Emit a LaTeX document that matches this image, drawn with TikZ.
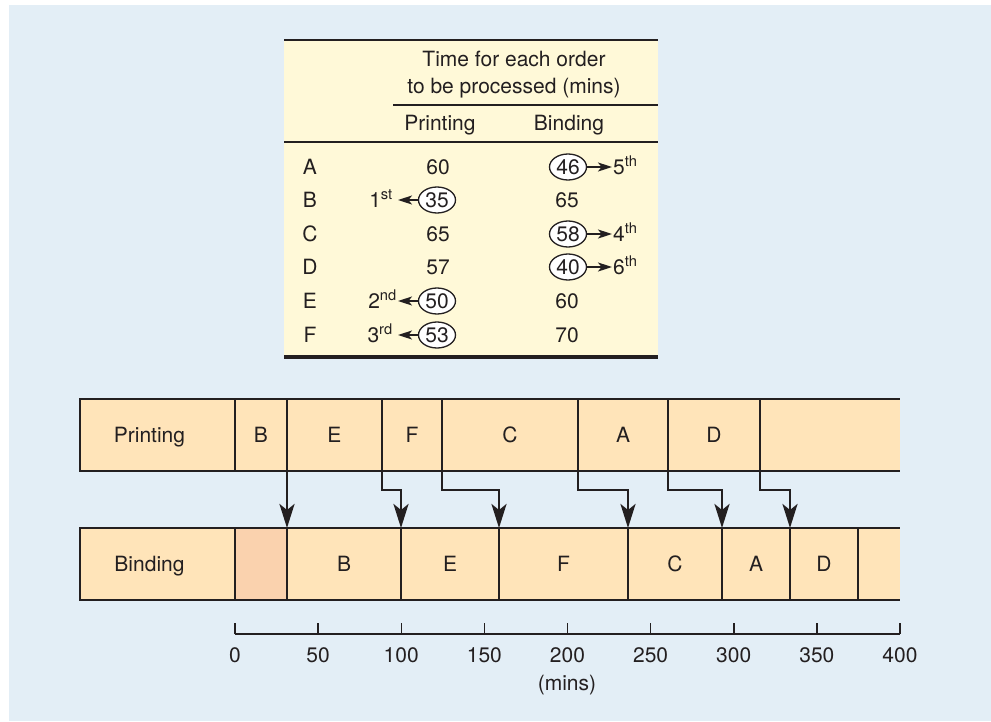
\documentclass[tikz,border=0pt]{standalone}
\usepackage{fontspec}
\setmainfont{TeX Gyre Heros}
\definecolor{panelblue}{RGB}{227,238,246}
\definecolor{tablecream}{RGB}{255,249,216}
\definecolor{jobpeach}{RGB}{255,228,185}
\definecolor{idlepeach}{RGB}{250,210,174}
\definecolor{ink}{RGB}{35,31,32}
\usetikzlibrary{arrows.meta, positioning, shapes.geometric, calc}

\begin{document}
\begin{tikzpicture}[x=1pt, y=-1pt, color=ink,
    font=\fontsize{21}{25}\selectfont,
    every node/.append style={text height=15pt, text depth=0pt, inner sep=0pt},
    job/.style={draw=ink, fill=jobpeach, line width=2.8pt, minimum height=72pt, outer sep=0pt, anchor=north west},
    circ/.style={ellipse, draw=ink, fill=white, line width=1.3pt, minimum width=37pt, minimum height=26pt},
    pick/.style={line width=1.5pt, -{Stealth[length=14pt, width=9pt, inset=3.5pt]}},
    feed/.style={line width=2.8pt, -{Stealth[length=24pt, width=15pt, inset=6pt]}}]
    \useasboundingbox (0,0) rectangle (991,721);
    \fill[panelblue] (9,5) rectangle (991,721);

    % Table
    \fill[tablecream] (284,40) rectangle (658,357);
    \draw[line width=2.6pt] (284,40) -- (658,40);
    \draw[line width=3.2pt] (284,357) -- (658,357);
    \draw[line width=1.2pt] (393,105) -- (658,105);
    \draw[line width=1.2pt] (284,142) -- (658,142);
    \node (head1) at (514,59) {Time for each order};
    \node (head2) at (514,86) {to be processed (mins)};
    \node (headP) at (440,123) {Printing};
    \node (headB) at (569,123) {Binding};

    % Orders
    \foreach \r/\y in {A/167,B/200,C/234,D/267,E/301,F/335}
        \node (row\r) at (310,\y) {\r};

    % Printing times
    \node (prA) at (438,167) {60};
    \node (prC) at (438,234) {65};
    \node (prD) at (438,267) {57};
    \node[circ] (prB) at (437,200) {35};
    \node[circ] (prE) at (437,301) {50};
    \node[circ] (prF) at (437,335) {53};
    \node[anchor=east, inner xsep=5pt] (ordB) at (398,200) {1\textsuperscript{st}};
    \node[anchor=east, inner xsep=1pt] (ordE) at (398,301) {2\textsuperscript{nd}};
    \node[anchor=east, inner xsep=5pt] (ordF) at (398,335) {3\textsuperscript{rd}};
    \foreach \n in {B,E,F}
        \draw[pick] (pr\n.west) -- (pr\n.west -| ord\n.east);

    % Binding times
    \node (biB) at (567,200) {65};
    \node (biE) at (567,301) {60};
    \node (biF) at (567,335) {70};
    \node[circ] (biA) at (568,167) {46};
    \node[circ] (biC) at (568,234) {58};
    \node[circ] (biD) at (568,267) {40};
    \node[anchor=west, inner xsep=1pt] (ordA) at (612,167) {5\textsuperscript{th}};
    \node[anchor=west, inner xsep=1pt] (ordC) at (612,234) {4\textsuperscript{th}};
    \node[anchor=west, inner xsep=1pt] (ordD) at (612,267) {6\textsuperscript{th}};
    \foreach \n in {A,C,D}
        \draw[pick] (bi\n.east) -- (bi\n.east -| ord\n.west);

    % Printing row
    \node[job, draw=none, minimum width=140pt] (pRest) at (760,399) {};
    \draw[line width=2.8pt] (pRest.north west) -- (pRest.north east) (pRest.south west) -- (pRest.south east);
    \foreach \n/\l/\r/\t in {Lab/80/235/Printing\hspace*{16pt}, B/235/287/B, E/287/382/E, F/382/442/F,
                            C/442/578/C, A/578/668/A, D/668/760/D}
        \node[job, minimum width=\r-\l] (p\n) at (\l,399) {\t};

    % Binding row
    \node[job, draw=none, minimum width=42pt] (bRest) at (858,528) {};
    \draw[line width=2.8pt] (bRest.north west) -- (bRest.north east) (bRest.south west) -- (bRest.south east);
    \node[job, fill=idlepeach, minimum width=52pt] (bIdle) at (235,528) {};
    \foreach \n/\l/\r/\t in {Lab/80/235/Binding\hspace*{16pt}, B/287/401/B, E/401/499/E, F/499/628/F,
                            C/628/722/C, A/722/790/A, D/790/858/D}
        \node[job, minimum width=\r-\l] (b\n) at (\l,528) {\t};

    % Hand-over arrows
    \draw[feed] (pB.south east) -- (bB.north west);
    \foreach \n in {E,F,C,A,D}
        \draw[feed] (p\n.south east) -- ++(0,19) -| (b\n.north west);

    % Time axis
    \draw[line width=1.5pt] (235,634) -- (900,634);
    \foreach \v [count=\i from 0] in {0,50,...,400} {
        \draw[line width=1.5pt] (235+\i*83.125,634) -- ++(0,-11);
        \node (tick\v) at (235+\i*83.125,655) {\v};
    }
    \node (unit) at (567,683) {(mins)};
\end{tikzpicture}
\end{document}
